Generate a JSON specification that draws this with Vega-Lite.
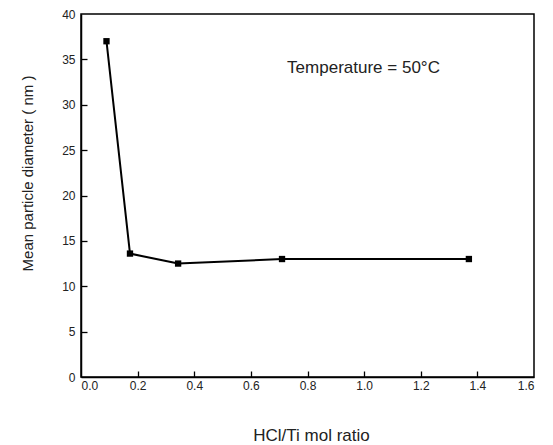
{
  "$schema": "https://vega.github.io/schema/vega-lite/v6.json",
  "autosize": {"type": "none"},
  "width": 453,
  "height": 363,
  "padding": {"left": 81, "top": 14, "right": 19, "bottom": 68},
  "config": {
    "font": "Liberation Sans",
    "view": {"stroke": "black", "strokeWidth": 1.5},
    "axis": {
      "domainColor": "black", "domainWidth": 1.5,
      "tickColor": "black", "tickWidth": 1.3, "tickSize": 6,
      "labelColor": "#222", "labelFontSize": 12, "grid": false,
      "titleColor": "#222", "titleFontSize": 13, "titleFontWeight": "normal"
    }
  },
  "resolve": {"axis": {"x": "independent", "y": "independent"}},
  "data": {"values": [
    {"ratio": 0.09, "diameter": 37.0},
    {"ratio": 0.173, "diameter": 13.6},
    {"ratio": 0.343, "diameter": 12.5},
    {"ratio": 0.71, "diameter": 13.0},
    {"ratio": 1.37, "diameter": 13.0}
  ]},
  "layer": [
    {
      "mark": {"type": "line", "color": "black", "strokeWidth": 2},
      "encoding": {
        "x": {"field": "ratio", "type": "quantitative",
          "scale": {"domain": [0, 1.6], "nice": false},
          "axis": {"orient": "bottom", "values": [0, 0.2, 0.4, 0.6, 0.8, 1.0, 1.2, 1.4, 1.6], "format": ".1f", "ticks": false, "labelPadding": 3,
            "title": "HCl/Ti mol ratio", "titleFontSize": 17, "titleX": 230, "titleY": 58, "titleBaseline": "middle", "titleAlign": "center", "titleAnchor": null}},
        "y": {"field": "diameter", "type": "quantitative",
          "scale": {"domain": [0, 40], "nice": false},
          "axis": {"orient": "left", "values": [0, 5, 10, 15, 20, 25, 30, 35, 40], "ticks": false, "labelPadding": 6,
            "title": "Mean particle diameter ( nm )", "titleFontSize": 15, "titleX": -54, "titleY": 159, "titleAngle": 270, "titleBaseline": "middle", "titleAlign": "center"}}
      }
    },
    {
      "mark": {"type": "square", "color": "black", "size": 40, "opacity": 1, "filled": true},
      "encoding": {
        "x": {"field": "ratio", "type": "quantitative",
          "axis": {"orient": "top", "offset": -363, "values": [0.2, 0.4, 0.6, 0.8, 1.0, 1.2, 1.4], "labels": false, "domain": false, "title": null}},
        "y": {"field": "diameter", "type": "quantitative",
          "axis": {"orient": "right", "offset": -453, "values": [5, 10, 15, 20, 25, 30, 35], "labels": false, "domain": false, "title": null}}
      }
    },
    {
      "data": {"values": [{"x": 0.728, "y": 34.0, "label": "Temperature = 50°C"}]},
      "mark": {"type": "text", "align": "left", "baseline": "middle", "fontSize": 17, "color": "#222"},
      "encoding": {
        "x": {"field": "x", "type": "quantitative", "axis": null},
        "y": {"field": "y", "type": "quantitative", "axis": null},
        "text": {"field": "label"}
      }
    }
  ]
}
